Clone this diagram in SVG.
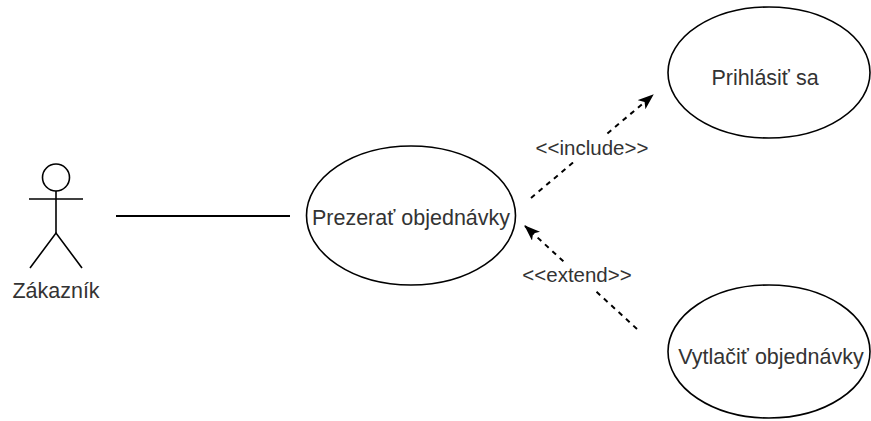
<svg xmlns="http://www.w3.org/2000/svg" width="871" height="421" viewBox="0 0 871 421">
<style>
.uc{fill:#fff;stroke:#000;stroke-width:1.6}
.t{font-family:"Liberation Sans",Arial,sans-serif;fill:#333;text-anchor:middle}
.n{font-size:21.5px}
.l{font-size:20.5px}
.solid{stroke:#000;stroke-width:2;fill:none}
.dash{stroke:#000;stroke-width:2;fill:none;stroke-dasharray:5 5}
.lbg{fill:#fff}
</style>
<defs>
<marker id="arr" viewBox="0 0 16 12" refX="15" refY="6" markerWidth="16" markerHeight="12" markerUnits="userSpaceOnUse" orient="auto">
<path d="M0,0 L16,6 L0,12 L4,6 Z" fill="#000"/>
</marker>
</defs>
<rect width="871" height="421" fill="#fff"/>
<g id="connectors">
<line class="solid" x1="116" y1="216" x2="290" y2="216"/>
<line class="dash" x1="531" y1="198" x2="653" y2="95" marker-end="url(#arr)"/>
<line class="dash" x1="637" y1="329" x2="525" y2="226" marker-end="url(#arr)"/>
<rect class="lbg" x="528" y="136" width="127" height="26"/>
<text class="t l" x="592" y="155">&lt;&lt;include&gt;&gt;</text>
<rect class="lbg" x="518" y="263" width="120" height="26"/>
<text class="t l" x="577" y="282">&lt;&lt;extend&gt;&gt;</text>
</g>
<g id="actor">
<circle cx="56" cy="177.5" r="13.5" fill="#fff" stroke="#000" stroke-width="1.6"/>
<line class="solid" x1="56" y1="191" x2="56" y2="233" style="stroke-width:1.6"/>
<line class="solid" x1="29" y1="199" x2="83" y2="199" style="stroke-width:1.6"/>
<polyline class="solid" points="30,268 56,233 82,268" style="stroke-width:1.6"/>
<text class="t n" x="56" y="298">Zákazník</text>
</g>
<g id="uc-prezerat">
<ellipse class="uc" cx="411" cy="215.5" rx="104.5" ry="69.5"/>
<text class="t n" x="411" y="225">Prezerať objednávky</text>
</g>
<g id="uc-prihlasit">
<ellipse class="uc" cx="769" cy="72.5" rx="101" ry="65.5"/>
<text class="t n" x="765" y="85">Prihlásiť sa</text>
</g>
<g id="uc-vytlacit">
<ellipse class="uc" cx="769" cy="351.5" rx="101" ry="66.5"/>
<text class="t n" x="771" y="364">Vytlačiť objednávky</text>
</g>
</svg>
